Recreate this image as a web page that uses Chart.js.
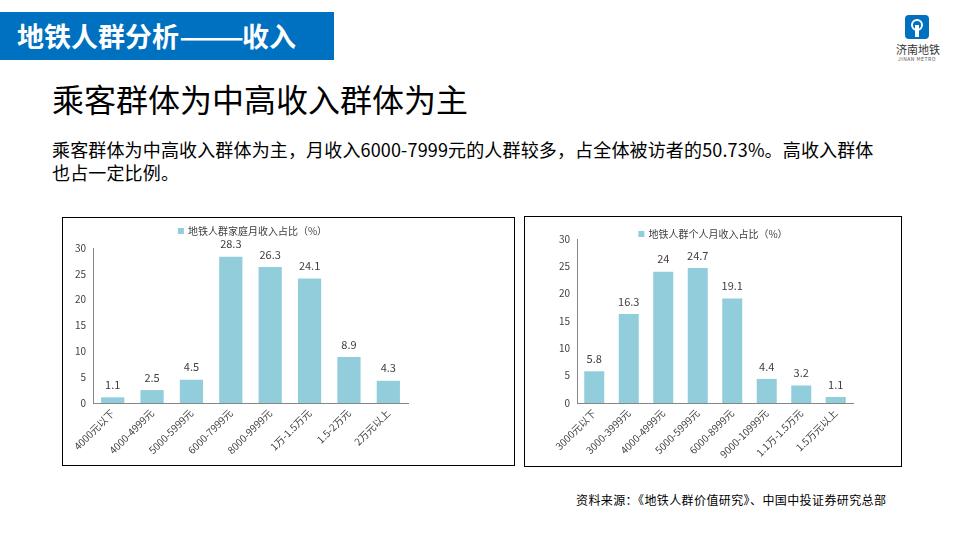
<!DOCTYPE html>
<html><head><meta charset="utf-8">
<script src="https://cdn.jsdelivr.net/npm/chart.js@4.4.1/dist/chart.umd.min.js"></script>
<style>
html,body{margin:0;padding:0;background:#fff;}
body{width:960px;height:540px;position:relative;overflow:hidden;font-family:"Noto Sans CJK SC","Noto Sans",sans-serif;}
.hdr{position:absolute;left:0;top:12px;width:334px;height:48px;background:#0070C0;color:#fff;font-weight:700;font-size:27px;line-height:48px;padding-left:17px;box-sizing:border-box;white-space:nowrap;}
.hdr .d{display:inline-block;transform:scaleX(1.42);transform-origin:left center;margin-right:17px;}
.title{position:absolute;left:52px;top:76px;font-size:32px;line-height:44px;color:#000;white-space:nowrap;}
.para{position:absolute;left:52px;top:138px;font-size:18px;line-height:23px;color:#000;white-space:nowrap;letter-spacing:0.15px;}
.box{position:absolute;border:1px solid #000;background:#fff;}
.box canvas{position:absolute;left:0;top:0;}
.src{position:absolute;left:576px;top:491px;font-size:12px;line-height:18px;color:#000;white-space:nowrap;letter-spacing:0.4px;}
.logo{position:absolute;left:905px;top:15px;width:24px;height:24px;background:#0070C0;border-radius:4px;}
.logo .a{position:absolute;left:6px;top:4px;width:12px;height:12px;border:2px solid #fff;border-radius:50%;box-sizing:border-box;}
.logo .b{position:absolute;left:10px;top:10px;width:4px;height:12px;background:#fff;}
.lt1{position:absolute;left:896px;top:43px;font-size:11px;line-height:13px;color:#333;white-space:nowrap;}
.lt2{position:absolute;left:898px;top:56px;font-size:5px;line-height:6px;color:#555;white-space:nowrap;letter-spacing:0.5px;}
</style></head>
<body>
<div class="hdr">地铁人群分析<span class="d">——</span>收入</div>
<div class="logo"><div class="a"></div><div class="b"></div></div>
<div class="lt1">济南地铁</div>
<div class="lt2">JINAN METRO</div>
<div class="title">乘客群体为中高收入群体为主</div>
<div class="para">乘客群体为中高收入群体为主，月收入6000-7999元的人群较多，占全体被访者的50.73%。高收入群体<br>也占一定比例。</div>
<div class="box" style="left:62px;top:217px;width:451px;height:247px;"><canvas id="c1" width="451" height="247"></canvas></div>
<div class="box" style="left:524px;top:216px;width:376px;height:249px;"><canvas id="c2" width="376" height="249"></canvas></div>
<div class="src">资料来源：《地铁人群价值研究》、中国中投证券研究总部</div>
<script>
const familyCategories = ["4000元以下","4000-4999元","5000-5999元","6000-7999元","8000-9999元","1万-1.5万元","1.5-2万元","2万元以上"];
const familyValues = [1.1, 2.5, 4.5, 28.3, 26.3, 24.1, 8.9, 4.3];
const familyLabel = "地铁人群家庭月收入占比（%）";
const personalCategories = ["3000元以下","3000-3999元","4000-4999元","5000-5999元","6000-8999元","9000-10999元","1.1万-1.5万元","1.5万元以上"];
const personalValues = [5.8, 16.3, 24, 24.7, 19.1, 4.4, 3.2, 1.1];
const personalLabel = "地铁人群个人月收入占比（%）";
const yTicks = [0, 5, 10, 15, 20, 25, 30];

const FONT = '"Noto Sans CJK SC","Noto Sans",sans-serif';
const BAR = '#92CDDC';
const TXT = '#404040';

const labelPlugin = {
  id: 'valLabels',
  afterDatasetsDraw(chart) {
    const ctx = chart.ctx;
    const meta = chart.getDatasetMeta(0);
    const data = chart.data.datasets[0].data;
    ctx.save();
    ctx.font = '11px ' + FONT;
    ctx.fillStyle = TXT;
    ctx.textAlign = 'center';
    ctx.textBaseline = 'bottom';
    meta.data.forEach((bar, i) => {
      ctx.fillText(String(data[i]), bar.x, bar.y - 7);
    });
    const ca = chart.chartArea;
    const label = chart.data.datasets[0].label;
    ctx.font = '10px ' + FONT;
    const tw = ctx.measureText(label).width;
    const total = 6 + 4 + tw;
    const cx = (ca.left + ca.right) / 2 + chart.options.plugins.valLabels.legendDx;
    const ly = chart.options.plugins.valLabels.legendY;
    const x0 = cx - total / 2;
    ctx.fillStyle = BAR;
    ctx.fillRect(x0, ly - 3, 6, 6);
    ctx.fillStyle = TXT;
    ctx.textAlign = 'left';
    ctx.textBaseline = 'middle';
    ctx.fillText(label, x0 + 10, ly);
    ctx.restore();
  }
};

function makeChart(id, cats, vals, label, cfg) {
  return new Chart(document.getElementById(id), {
    type: 'bar',
    data: { labels: cats, datasets: [{ label: label, data: vals, backgroundColor: BAR, borderWidth: 0, categoryPercentage: 1, barPercentage: cfg.barPct }] },
    options: {
      responsive: false, animation: false, devicePixelRatio: 1,
      layout: { padding: { left: 0, right: cfg.right, top: cfg.top, bottom: 0 } },
      plugins: { legend: { display: false }, tooltip: { enabled: false }, valLabels: { legendY: cfg.legendY, legendDx: cfg.legendDx } },
      scales: {
        x: {
          grid: { display: false, drawTicks: false },
          border: { display: true, color: '#868686', width: 1 },
          ticks: { color: TXT, font: { family: FONT, size: 10 }, minRotation: 45, maxRotation: 45, autoSkip: false, padding: 4 },
          afterFit(s) { s.height = cfg.xh; }
        },
        y: {
          min: 0, max: 30,
          afterBuildTicks(s) { s.ticks = yTicks.map(v => ({ value: v })); },
          grid: { display: false, drawOnChartArea: false, drawTicks: true, tickLength: 4, tickColor: '#868686' },
          border: { display: true, color: '#868686', width: 1 },
          ticks: { color: TXT, font: { family: FONT, size: 10 }, padding: 3 },
          afterFit(s) { s.width = cfg.yw; }
        }
      }
    },
    plugins: [labelPlugin]
  });
}

makeChart('c1', familyCategories, familyValues, familyLabel, { right: 106, top: 30, xh: 62, yw: 30, barPct: 0.59, legendY: 13, legendDx: 2 });
makeChart('c2', personalCategories, personalValues, personalLabel, { right: 48, top: 22, xh: 63, yw: 52, barPct: 0.58, legendY: 17, legendDx: -2 });
</script>
</body></html>
